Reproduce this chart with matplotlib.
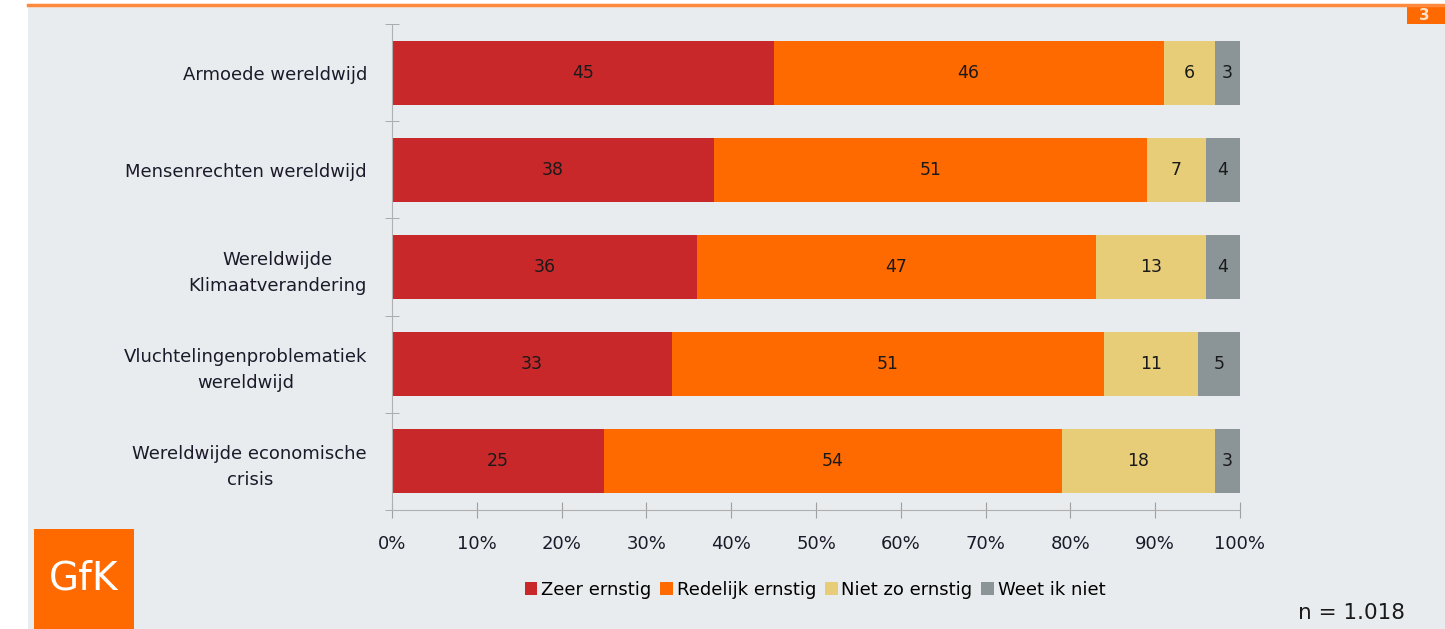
import numpy as np
import matplotlib.pyplot as plt
from matplotlib.patches import Rectangle, Patch

# data
categories = ["Armoede wereldwijd", "Mensenrechten wereldwijd",
              "Wereldwijde\nKlimaatverandering",
              "Vluchtelingenproblematiek\nwereldwijd",
              "Wereldwijde economische\ncrisis"]
zeer_ernstig = [45, 38, 36, 33, 25]
redelijk_ernstig = [46, 51, 47, 51, 54]
niet_zo_ernstig = [6, 7, 13, 11, 18]
weet_ik_niet = [3, 4, 4, 5, 3]
series_names = ["Zeer ernstig", "Redelijk ernstig", "Niet zo ernstig", "Weet ik niet"]
colors = ["#C9282A", "#FF6A00", "#E8CD78", "#8B9598"]

W, H = 1445, 629
fig = plt.figure(figsize=(W / 100, H / 100), dpi=100)
fig.patch.set_facecolor("white")

# grey page background + orange header line
fig.add_artist(Rectangle((28 / W, 0), 1 - 28 / W, 1 - 5 / H, transform=fig.transFigure,
                         facecolor="#E9ECEE", edgecolor="none", zorder=0))
fig.add_artist(plt.Line2D([28 / W, 1], [1 - 4.5 / H, 1 - 4.5 / H], transform=fig.transFigure,
                          color="#FF8A3D", lw=2.5))
# page number box
fig.add_artist(Rectangle((1407 / W, 1 - 24 / H), 38 / W, 18 / H, transform=fig.transFigure,
                         facecolor="#FF6A00", edgecolor="none"))
fig.text(1424 / W, 1 - 15 / H, "3", color="#FFE0C8", fontsize=11, ha="center", va="center",
         fontweight="bold")

ax = fig.add_axes([392 / W, 1 - 510 / H, 848 / W, 486 / H])
ax.set_facecolor("#E9ECEE")

y = np.arange(len(categories))
data = [zeer_ernstig, redelijk_ernstig, niet_zo_ernstig, weet_ik_niet]
left = np.zeros(len(categories))
for vals, c, name in zip(data, colors, series_names):
    vals = np.array(vals, dtype=float)
    ax.barh(y, vals, left=left, height=0.66, color=c, label=name, zorder=2)
    for yi, l, v in zip(y, left, vals):
        ax.text(l + v / 2, yi, f"{v:.0f}", ha="center", va="center", fontsize=12.5,
                color="#1a1a1a", zorder=3)
    left += vals

ax.set_xlim(0, 100)
ax.set_ylim(len(categories) - 0.5, -0.5)
ax.set_xticks(np.arange(0, 101, 10))
ax.set_xticklabels([f"{v}%" for v in range(0, 101, 10)], fontsize=13, color="#1a1a2a")
ax.set_yticks(y)
ax.set_yticklabels(categories, fontsize=13, color="#1a1a2a", ha="right",
                   multialignment="center", linespacing=1.55)
ax.set_yticks(np.arange(-0.5, len(categories), 1), minor=True)
ax.tick_params(axis="y", which="major", length=0, pad=18)
ax.tick_params(axis="y", which="minor", direction="inout", length=10, color="#A0A0A0")
ax.tick_params(axis="x", direction="inout", length=12, color="#A0A0A0", pad=12)
for s in ["top", "right"]:
    ax.spines[s].set_visible(False)
for s in ["left", "bottom"]:
    ax.spines[s].set_color("#B0B0B0")

handles = [Patch(facecolor=c, edgecolor="none") for c in colors]
fig.legend(handles, series_names, loc="center", bbox_to_anchor=(815 / W, 1 - 590 / H),
           ncol=4, frameon=False, fontsize=13, handlelength=0.7, handleheight=0.7,
           handletextpad=0.2, columnspacing=0.5)

fig.text(1405 / W, 1 - 613 / H, "n = 1.018", ha="right", va="center", fontsize=15.5,
         color="#1a1a1a")

# GfK logo
fig.add_artist(Rectangle((34 / W, 0), 100 / W, 100 / H, transform=fig.transFigure,
                         facecolor="#FF6A00", edgecolor="none"))
fig.text(84 / W, 1 - 578 / H, "GfK", color="white", fontsize=28, ha="center", va="center")

fig.savefig("out.png", dpi=100, facecolor=fig.get_facecolor())
